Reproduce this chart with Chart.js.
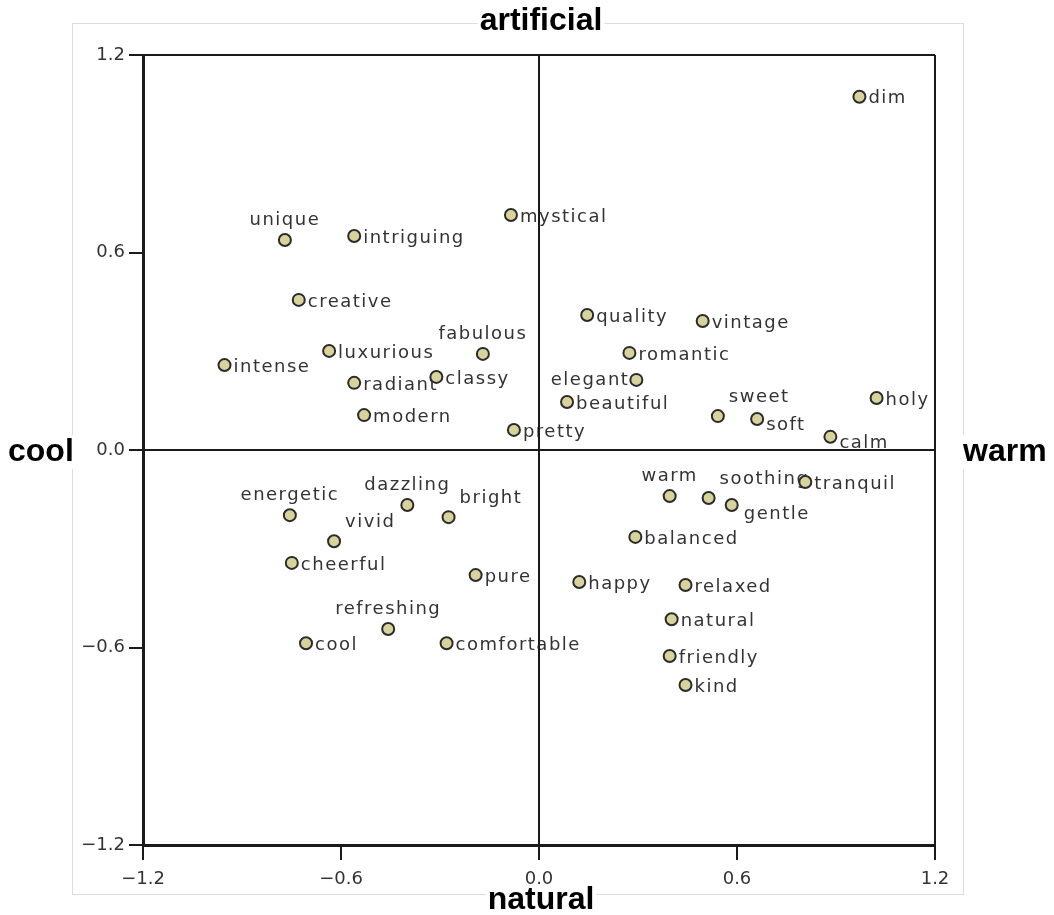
<!DOCTYPE html>
<html>
<head>
<meta charset="utf-8">
<script src="https://cdn.jsdelivr.net/npm/chart.js@4/dist/chart.umd.min.js"></script>
<style>
html,body{margin:0;padding:0;background:#fff;}
#wrap{width:1054px;height:915px;}
</style>
</head>
<body>
<div id="wrap"><canvas id="c" width="1054" height="915"></canvas></div>
<script>
// ---- data ----
const words = ["dim","unique","intriguing","mystical","creative","quality","vintage","fabulous","luxurious","romantic",
  "intense","classy","radiant","elegant","beautiful","holy","sweet","soft","modern","pretty",
  "calm","warm","soothing","tranquil","gentle","energetic","dazzling","bright","vivid","balanced",
  "cheerful","pure","happy","relaxed","natural","refreshing","cool","comfortable","friendly","kind"];
const dim1 = [0.971,-0.770,-0.560,-0.085,-0.728,0.146,0.496,-0.170,-0.636,0.274,
  -0.953,-0.311,-0.560,0.295,0.085,1.023,0.542,0.661,-0.530,-0.076,
  0.883,0.396,0.514,0.807,0.584,-0.755,-0.399,-0.274,-0.621,0.292,
  -0.749,-0.192,0.122,0.444,0.402,-0.457,-0.706,-0.280,0.396,0.444];
const dim2 = [1.073,0.638,0.650,0.714,0.456,0.410,0.392,0.292,0.301,0.295,
  0.258,0.222,0.204,0.213,0.146,0.158,0.103,0.094,0.106,0.061,
  0.040,-0.140,-0.146,-0.097,-0.167,-0.198,-0.167,-0.204,-0.277,-0.264,
  -0.343,-0.380,-0.401,-0.410,-0.514,-0.544,-0.587,-0.587,-0.626,-0.714];
const tickValues = [-1.2,-0.6,0.0,0.6,1.2];
const tickLabels = ["\u22121.2","\u22120.6","0.0","0.6","1.2"];
const poleTop = "artificial", poleBottom = "natural", poleLeft = "cool", poleRight = "warm";

// ---- label placement (style) ----
const placement = {unique:"above", fabulous:"above", warm:"above", energetic:"above", dazzling:"above",
  refreshing:"above", sweet:"aboveRight", soothing:"aboveRight", bright:"aboveRight", vivid:"aboveRight",
  elegant:"left", gentle:"belowRight", soft:"lowRight", calm:"lowRight"};

const LABEL_FONT = '18px "DejaVu Sans"';
const LABEL_SPACING = '1.5px';
const TITLE_FONT = 'bold 32px "Liberation Sans"';

function approx(a,b){return Math.abs(a-b)<1e-6;}

const labelPlugin = {
  id:'labels',
  beforeDraw(chart){
    const ctx = chart.ctx;
    const a = chart.chartArea;
    ctx.save();
    ctx.strokeStyle = '#dcdcdc';
    ctx.lineWidth = 1;
    ctx.strokeRect(72.5, 23.5, 891, 871);
    ctx.font = TITLE_FONT;
    ctx.textBaseline = 'middle';
    const cx = (a.left+a.right)/2, cy = (a.top+a.bottom)/2;
    const drawT = (t,x,y,align)=>{
      ctx.textAlign = align;
      const w = ctx.measureText(t).width;
      let x0 = align==='center'? x-w/2 : (align==='left'? x : x-w);
      ctx.fillStyle = '#fff';
      ctx.fillRect(x0-2, y-17, w+4, 34);
      ctx.fillStyle = '#000';
      ctx.fillText(t,x,y);
    };
    drawT(poleTop, cx+2, 21, 'center');
    drawT(poleBottom, cx+2, 900, 'center');
    drawT(poleLeft, 8, cy+2, 'left');
    drawT(poleRight, 963, cy+2, 'left');
    ctx.font = LABEL_FONT;
    try{ ctx.letterSpacing = LABEL_SPACING; }catch(e){}
    ctx.fillStyle = '#333';
    const meta = chart.getDatasetMeta(0);
    meta.data.forEach((pt,i)=>{
      const w = words[i];
      const p = placement[w] || 'right';
      let x=pt.x, y=pt.y;
      ctx.textBaseline = 'middle';
      if(p==='right'){ctx.textAlign='left'; ctx.fillText(w,x+9,y+2);}
      else if(p==='lowRight'){ctx.textAlign='left'; ctx.fillText(w,x+9,y+6);}
      else if(p==='above'){ctx.textAlign='center'; ctx.fillText(w,x,y-20);}
      else if(p==='aboveRight'){ctx.textAlign='left'; ctx.fillText(w,x+11,y-19);}
      else if(p==='left'){ctx.textAlign='right'; ctx.fillText(w,x-7,y);}
      else if(p==='belowRight'){ctx.textAlign='left'; ctx.fillText(w,x+12,y+9);}
    });
    ctx.restore();
  }
};

const pts = words.map((w,i)=>({x:dim1[i], y:dim2[i]}));

function gridColor(c){
  const v = c.tick ? c.tick.value : null;
  if(v===null) return 'transparent';
  return (approx(v,0)||approx(Math.abs(v),1.2)) ? '#1a1a1a' : 'transparent';
}

new Chart(document.getElementById('c'),{
  type:'scatter',
  data:{datasets:[{data:pts, pointRadius:6, pointHoverRadius:6,
    backgroundColor:'#d8d29b', borderColor:'#2b2b2b', borderWidth:2}]},
  options:{
    responsive:false, animation:false,
    events:[],
    layout:{padding:{left:0, top:55, right:119, bottom:25}},
    plugins:{legend:{display:false}, tooltip:{enabled:false}},
    scales:{
      x:{type:'linear', min:-1.2, max:1.2,
        afterBuildTicks(s){ s.ticks = tickValues.map(v=>({value:v})); },
        afterFit(s){ s.height = 45; },
        ticks:{callback:(v,i)=>tickLabels[i], color:'#333', font:{family:'"DejaVu Sans"', size:18}, padding:9, maxRotation:0},
        grid:{color:gridColor, lineWidth:2, tickColor:'#1a1a1a', tickLength:15, drawTicks:true},
        border:{display:true, color:'#1a1a1a', width:3}
      },
      y:{type:'linear', min:-1.2, max:1.2,
        afterBuildTicks(s){ s.ticks = tickValues.map(v=>({value:v})); },
        afterFit(s){ s.width = 143; },
        ticks:{callback:(v,i)=>tickLabels[i], color:'#333', font:{family:'"DejaVu Sans"', size:18}, padding:4},
        grid:{color:gridColor, lineWidth:2, tickColor:'#1a1a1a', tickLength:14, drawTicks:true},
        border:{display:true, color:'#1a1a1a', width:3}
      }
    }
  },
  plugins:[labelPlugin]
});
</script>
</body>
</html>
